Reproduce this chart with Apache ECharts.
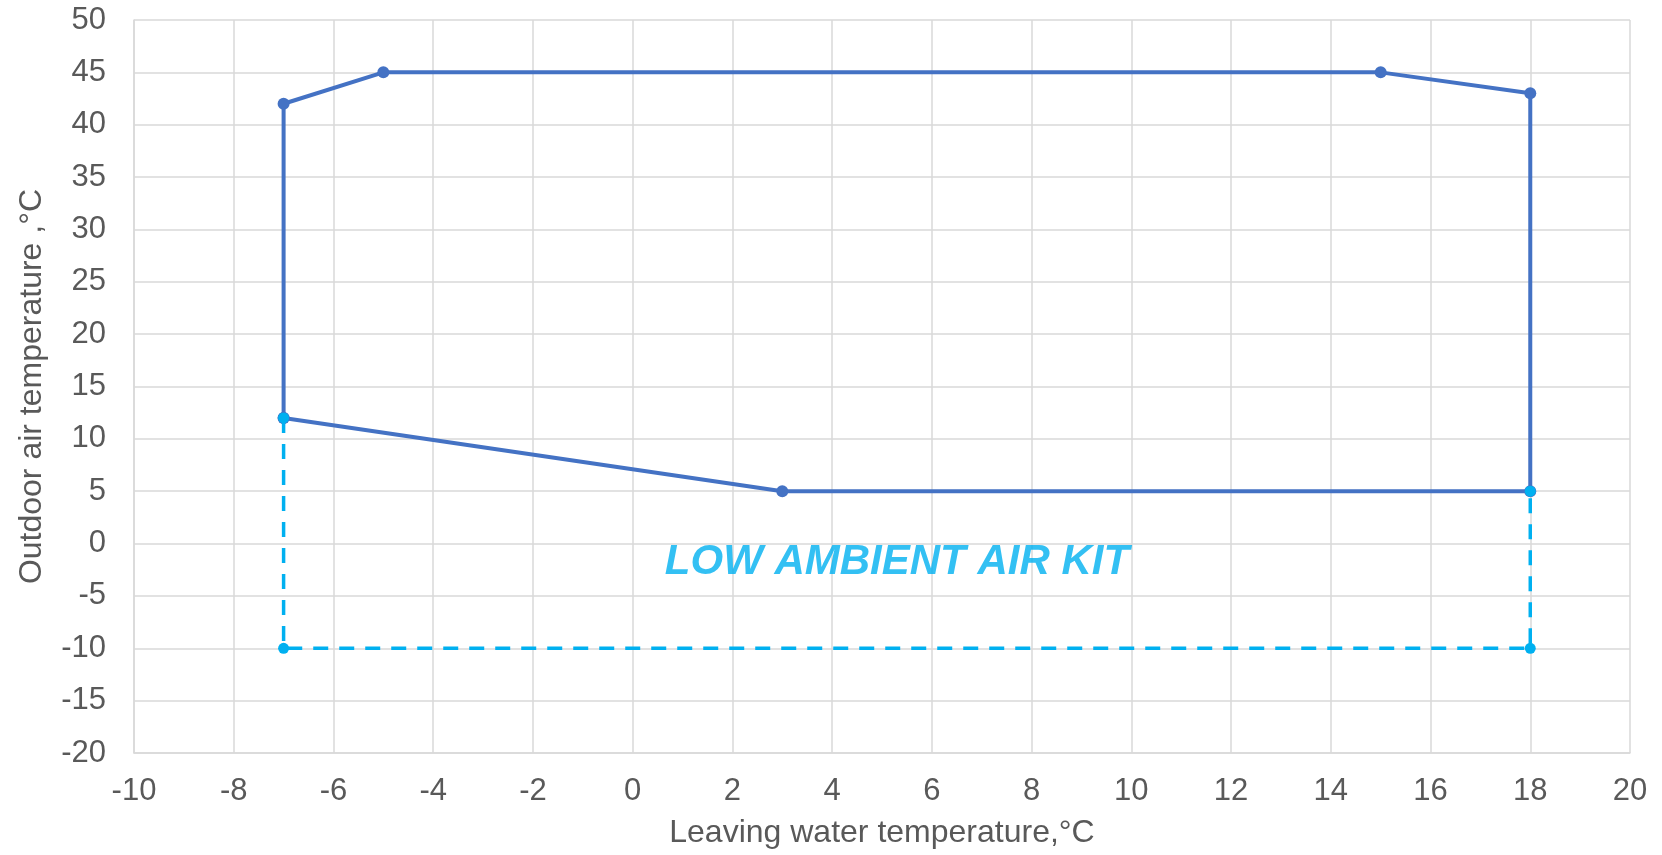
<!DOCTYPE html>
<html>
<head>
<meta charset="utf-8">
<script src="https://cdn.jsdelivr.net/npm/echarts@6/dist/echarts.min.js"></script>
<style>
html,body{margin:0;padding:0;background:#fff;}
#chart{width:1662px;height:855px;}
</style>
</head>
<body>
<div id="chart"></div>
<script>
// Operating envelope (leaving water temp, outdoor air temp)
const envelopeX = [-7, -7, -5, 15, 18, 18, 3, -7];
const envelopeY = [12, 42, 45, 45, 43, 5, 5, 12];
// Low ambient air kit extension
const kitX = [-7, -7, 18, 18];
const kitY = [12, -10, -10, 5];
// Annotation
const kitLabel = 'LOW AMBIENT AIR KIT';
const kitLabelPos = [5.3, -1.8];
// Axes
const xMin = -10, xMax = 20, xStep = 2;
const yMin = -20, yMax = 50, yStep = 5;
const xTitle = 'Leaving water temperature,°C';
const yTitle = 'Outdoor air temperature ,°C';

const FONT = '"Liberation Sans", Arial, sans-serif';
const TEXT = '#595959';
const GRID = '#d9d9d9';

const chart = echarts.init(document.getElementById('chart'), null, {renderer: 'canvas'});
chart.setOption({
  animation: false,
  backgroundColor: '#ffffff',
  grid: {left: 134, right: 32, top: 20, bottom: 102, containLabel: false},
  xAxis: {
    type: 'value', min: xMin, max: xMax, interval: xStep,
    name: xTitle, nameLocation: 'middle', nameGap: 64,
    nameTextStyle: {color: TEXT, fontSize: 32, fontFamily: FONT},
    axisLine: {show: true, onZero: false, lineStyle: {color: GRID, width: 1.5}},
    axisTick: {show: false},
    axisLabel: {color: TEXT, fontSize: 31, fontFamily: FONT, margin: 23},
    splitLine: {show: true, lineStyle: {color: GRID, width: 1.5}}
  },
  yAxis: {
    type: 'value', min: yMin, max: yMax, interval: yStep,
    name: yTitle, nameLocation: 'middle', nameGap: 86,
    nameTextStyle: {color: TEXT, fontSize: 32, fontFamily: FONT},
    axisLine: {show: true, onZero: false, lineStyle: {color: GRID, width: 1.5}},
    axisTick: {show: false},
    axisLabel: {color: TEXT, fontSize: 31, fontFamily: FONT, margin: 28},
    splitLine: {show: true, lineStyle: {color: GRID, width: 1.5}}
  },
  series: [
    {
      type: 'line',
      data: envelopeX.map((x, i) => [x, envelopeY[i]]),
      symbol: 'circle', symbolSize: 12,
      lineStyle: {color: '#4472C4', width: 4},
      itemStyle: {color: '#4472C4'},
      z: 3
    },
    {
      type: 'line',
      data: kitX.map((x, i) => [x, kitY[i]]),
      symbol: 'circle', symbolSize: 11,
      lineStyle: {color: '#00B0F0', width: 3.5, type: [15, 11]},
      itemStyle: {color: '#00B0F0'},
      z: 4
    },
    {
      type: 'scatter',
      data: [kitLabelPos],
      symbolSize: 0,
      label: {
        show: true, position: 'inside', formatter: kitLabel,
        color: '#00B0F0', fontSize: 42, fontWeight: 'bold', fontStyle: 'italic', fontFamily: FONT
      },
      z: 5
    }
  ]
});
</script>
</body>
</html>
